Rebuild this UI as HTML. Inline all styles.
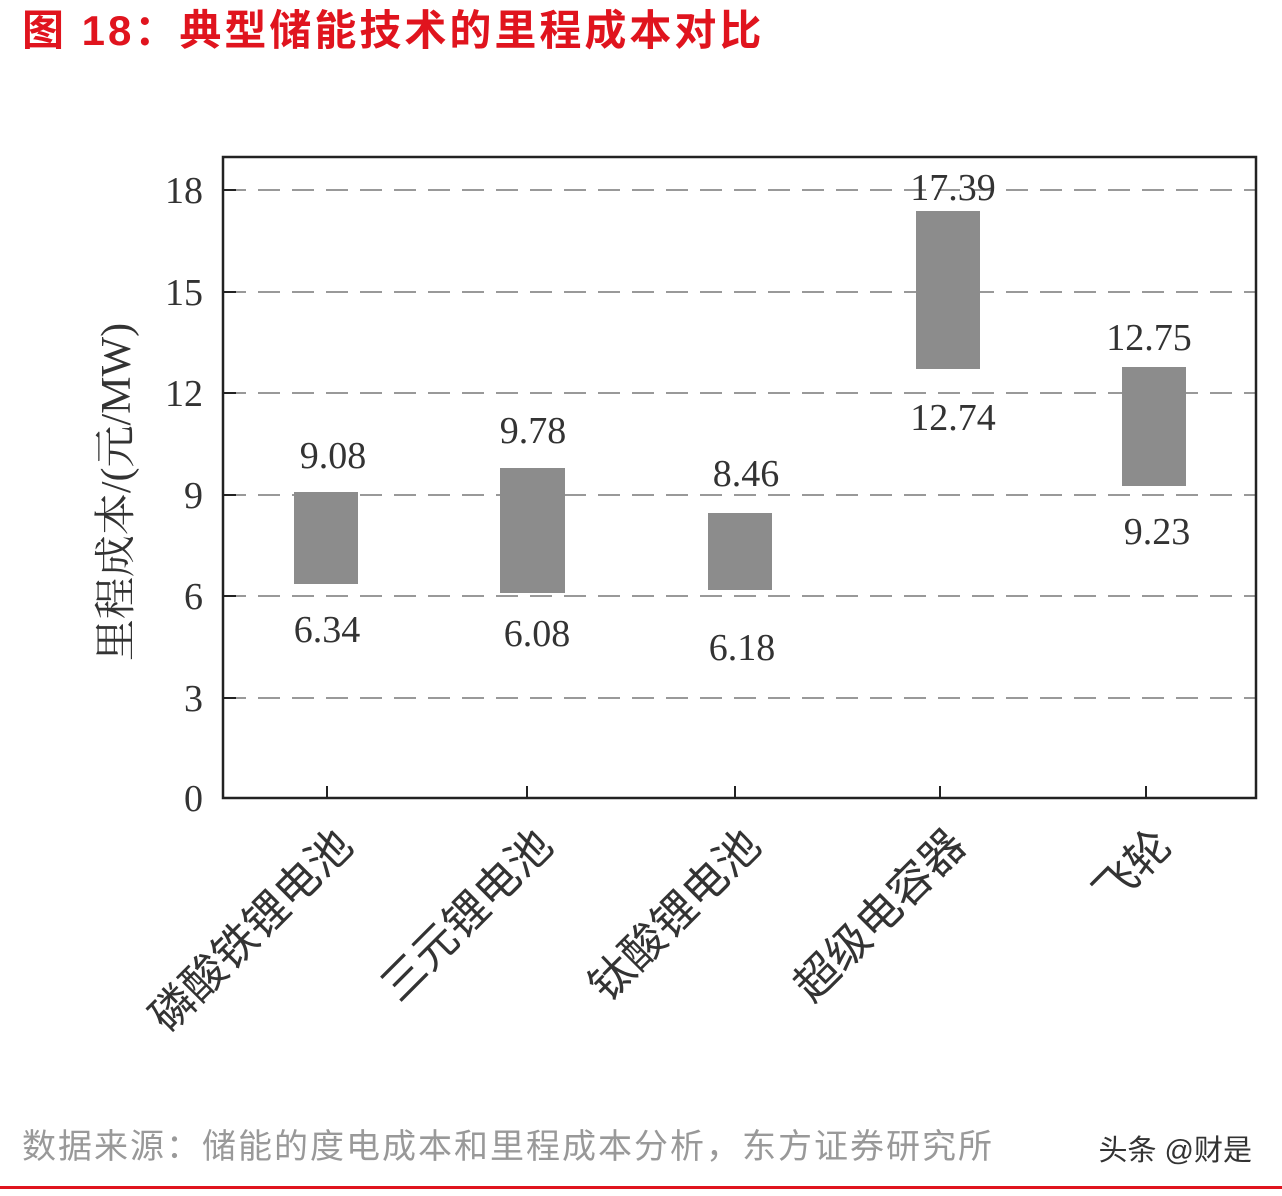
<!DOCTYPE html>
<html><head><meta charset="utf-8"><style>
body{margin:0;background:#fff;width:1282px;height:1196px;overflow:hidden}
svg{display:block}
</style></head><body>
<svg width="1282" height="1196" xmlns="http://www.w3.org/2000/svg">
<text x="22" y="45" font-family="Liberation Sans, Noto Sans CJK SC, sans-serif" font-size="42" font-weight="bold" fill="#e0141e" letter-spacing="3">图 18：典型储能技术的里程成本对比</text>
<g stroke="#999" stroke-width="2" stroke-dasharray="22,12">
<line x1="224" y1="190" x2="1256" y2="190"/>
<line x1="224" y1="292" x2="1256" y2="292"/>
<line x1="224" y1="393" x2="1256" y2="393"/>
<line x1="224" y1="495" x2="1256" y2="495"/>
<line x1="224" y1="596" x2="1256" y2="596"/>
<line x1="224" y1="698" x2="1256" y2="698"/>
</g>
<rect x="223" y="157" width="1033" height="641" fill="none" stroke="#222" stroke-width="2.5"/>
<g stroke="#222" stroke-width="2">
<line x1="223" y1="190" x2="236" y2="190"/><line x1="223" y1="292" x2="236" y2="292"/>
<line x1="223" y1="393" x2="236" y2="393"/><line x1="223" y1="495" x2="236" y2="495"/>
<line x1="223" y1="596" x2="236" y2="596"/><line x1="223" y1="698" x2="236" y2="698"/>
<line x1="327" y1="798" x2="327" y2="786"/><line x1="527" y1="798" x2="527" y2="786"/>
<line x1="735" y1="798" x2="735" y2="786"/><line x1="940" y1="798" x2="940" y2="786"/>
<line x1="1146" y1="798" x2="1146" y2="786"/>
</g>
<g font-family="Liberation Serif, serif" font-size="38" fill="#333" text-anchor="end">
<text x="203" y="203">18</text><text x="203" y="305">15</text><text x="203" y="406">12</text>
<text x="203" y="508">9</text><text x="203" y="609">6</text><text x="203" y="711">3</text><text x="203" y="811">0</text>
</g>
<g fill="#8c8c8c">
<rect x="294" y="492" width="64" height="92"/>
<rect x="500" y="468" width="65" height="125"/>
<rect x="708" y="513" width="64" height="77"/>
<rect x="916" y="211" width="64" height="158"/>
<rect x="1122" y="367" width="64" height="119"/>
</g>
<g font-family="Liberation Serif, serif" font-size="38" fill="#333" text-anchor="middle">
<text x="333" y="468">9.08</text><text x="327" y="642">6.34</text>
<text x="533" y="443">9.78</text><text x="537" y="646">6.08</text>
<text x="746" y="486">8.46</text><text x="742" y="660">6.18</text>
<text x="953" y="200">17.39</text><text x="953" y="430">12.74</text>
<text x="1149" y="350">12.75</text><text x="1157" y="544">9.23</text>
</g>
<text transform="translate(130,492) rotate(-90)" font-family="Liberation Serif, Noto Serif CJK SC, serif" font-size="42" fill="#333" text-anchor="middle">里程成本/(元/MW)</text>
<g font-family="Liberation Sans, Noto Sans CJK SC, sans-serif" font-size="44" fill="#333" text-anchor="end">
<text transform="translate(355,848) rotate(-45)">磷酸铁锂电池</text>
<text transform="translate(555,848) rotate(-45)">三元锂电池</text>
<text transform="translate(763,848) rotate(-45)">钛酸锂电池</text>
<text transform="translate(968,848) rotate(-45)">超级电容器</text>
<text transform="translate(1174,848) rotate(-45)">飞轮</text>
</g>
<text x="22" y="1158" font-family="Liberation Sans, Noto Sans CJK SC, sans-serif" font-size="34" fill="#999" letter-spacing="2">数据来源：储能的度电成本和里程成本分析，东方证券研究所</text>
<text x="1252" y="1160" font-family="Liberation Sans, Noto Sans CJK SC, sans-serif" font-size="29" fill="#333" text-anchor="end">头条 @财是</text>
<rect x="0" y="1186" width="1282" height="3" fill="#e0141e"/>
</svg>
</body></html>
